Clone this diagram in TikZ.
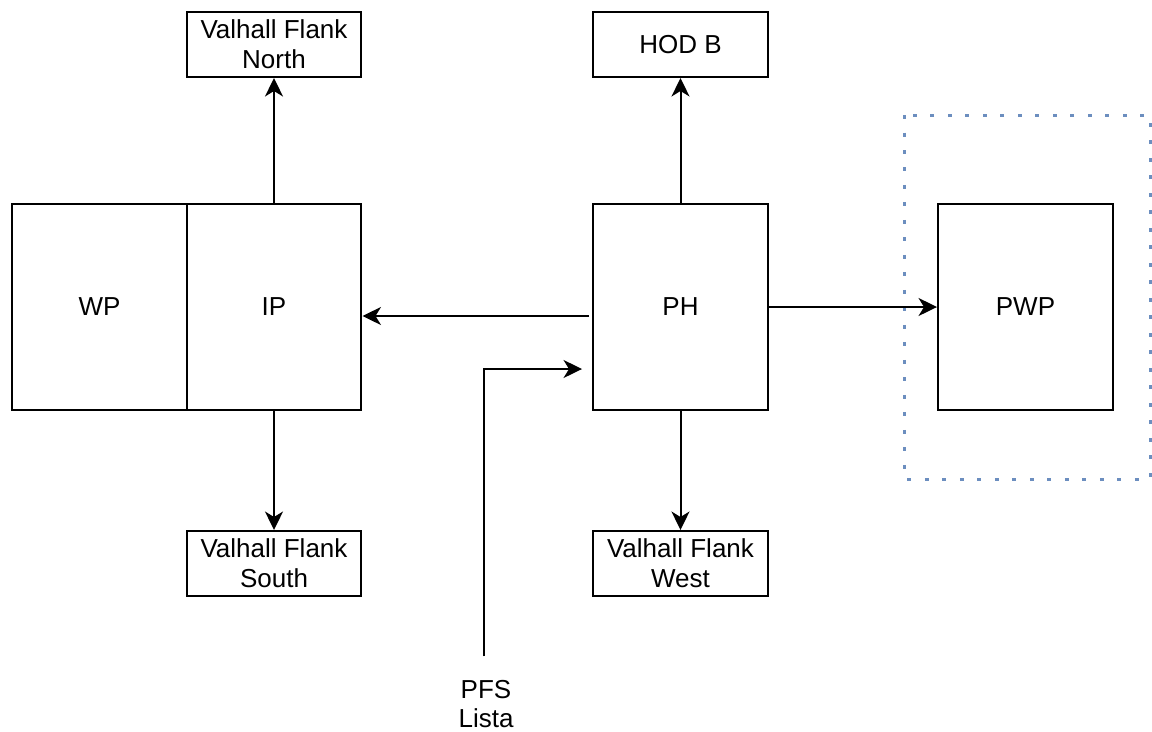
\documentclass[tikz,border=0pt]{standalone}
\usepackage{fontspec}
\setmainfont{Liberation Sans}
\usetikzlibrary{arrows.meta}

\definecolor{framecol}{HTML}{6C8EBF}
\tikzset{
	box/.style={draw, line width=0.04cm, minimum width=3.5cm, inner sep=0pt, align=center, font=\fontsize{14.8}{17}\selectfont},
	bigbox/.style={box, minimum height=4.12cm},
	smallbox/.style={box, minimum height=1.3cm},
	arr/.style={line width=0.04cm, -{Stealth[length=0.37cm,width=0.36cm,inset=0.11cm]}},
	pwpframe/.style={draw=framecol, line width=0.06cm, dash pattern=on 0.08cm off 0.27cm},
}

\begin{document}
\begin{tikzpicture}[x=0.02cm, y=-0.02cm]
		\useasboundingbox (0,0) rectangle (1152,731);
		%%%%% START %%%%%
		
		\draw[pwpframe] (904,115) rectangle (1150,479);
		
		\node[smallbox] (north) at (274,44.5) {Valhall Flank\\North};
		\node[bigbox] (wp) at (99.5,307) {WP};
		\node[bigbox] (ip) at (274,307) {IP};
		\node[smallbox] (south) at (274,563.5) {Valhall Flank\\South};
		
		\node[smallbox] (hodb) at (680.5,44.5) {HOD B};
		\node[bigbox] (ph) at (680.5,307) {PH};
		\node[smallbox] (west) at (680.5,563.5) {Valhall Flank\\West};
		
		\node[bigbox] (pwp) at (1025.5,307) {PWP};
		
		\node[align=center, inner sep=0pt, font=\fontsize{14.8}{16}\selectfont] (pfs) at (486,704) {PFS\\Lista};
		
		\draw[arr] (ip.north) -- (north.south);
		\draw[arr] (ip.south) -- (south.north);
		\draw[arr] (ph.north) -- (hodb.south);
		\draw[arr] (ph.south) -- (west.north);
		\draw[arr] (ph.east) -- (pwp.west);
		
		\coordinate (phout) at ([shift={(-3,9)}]ph.west);
		\draw[arr] (phout) -- (phout -| ip.east);
		
		\coordinate (pfsin) at ([shift={(-10,62)}]ph.west);
		\draw[arr] ([shift={(-2,-24)}]pfs.north) |- (pfsin);
		
		%%%%% END %%%%%
\end{tikzpicture}
\end{document}
